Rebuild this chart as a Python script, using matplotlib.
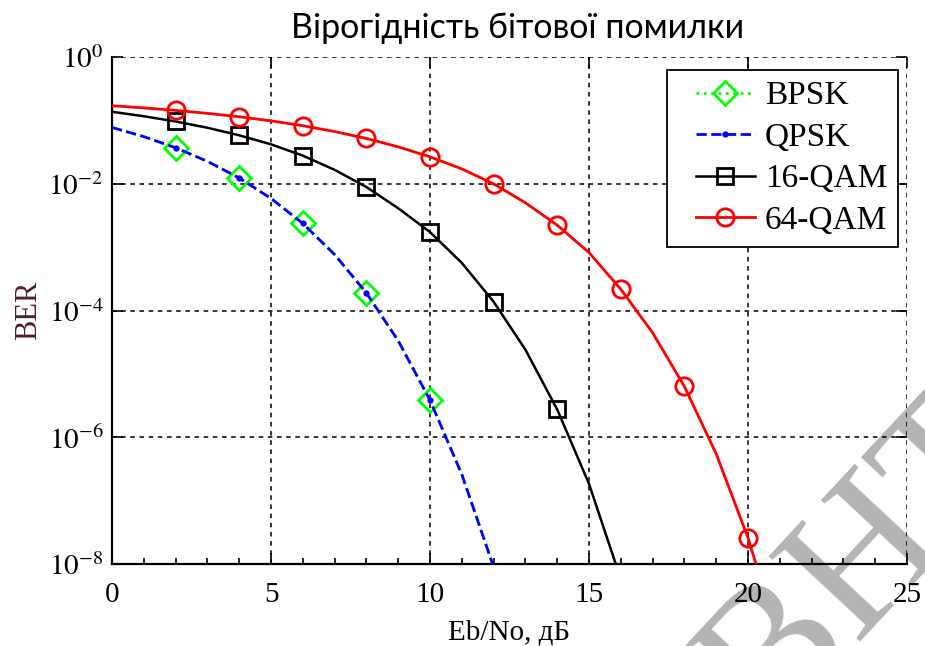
import numpy as np
import matplotlib
matplotlib.use("Agg")
import matplotlib.pyplot as plt
from matplotlib.ticker import FixedLocator, MultipleLocator, FixedFormatter
from matplotlib.legend_handler import HandlerLine2D

plt.rcParams["font.family"] = ["Liberation Serif", "DejaVu Serif"]
plt.rcParams["mathtext.fontset"] = "stix"

# BER curves, read per dB of Eb/No
ebno_bpsk = np.arange(0, 13)
ber_bpsk = [7.86e-2, 5.63e-2, 3.75e-2, 2.29e-2, 1.25e-2, 5.95e-3, 2.39e-3,
            7.73e-4, 1.91e-4, 3.36e-5, 3.87e-6, 2.61e-7, 9.0e-9]
ebno_qpsk = np.arange(0, 13)
ber_qpsk = [7.86e-2, 5.63e-2, 3.75e-2, 2.29e-2, 1.25e-2, 5.95e-3, 2.39e-3,
            7.73e-4, 1.91e-4, 3.36e-5, 3.87e-6, 2.61e-7, 9.0e-9]
ebno_16qam = np.arange(0, 17)
ber_16qam = [1.39e-1, 1.18e-1, 9.76e-2, 7.77e-2, 5.90e-2, 4.25e-2, 2.82e-2,
             1.68e-2, 9.0e-3, 4.16e-3, 1.75e-3, 5.7e-4, 1.39e-4, 2.43e-5,
             2.76e-6, 1.85e-7, 5.8e-9]
ebno_64qam = np.arange(0, 22)
ber_64qam = [1.73e-1, 1.60e-1, 1.46e-1, 1.31e-1, 1.16e-1, 9.98e-2, 8.37e-2,
             6.77e-2, 5.26e-2, 3.88e-2, 2.70e-2, 1.74e-2, 1.01e-2, 5.08e-3,
             2.25e-3, 8.3e-4, 2.19e-4, 4.5e-5, 6.37e-6, 5.5e-7, 2.6e-8, 5.8e-10]

x_ticks = [0, 5, 10, 15, 20, 25]
y_ticks = [1e-8, 1e-6, 1e-4, 1e-2, 1e0]
y_tick_labels = [r"$10^{-8}$", r"$10^{-6}$", r"$10^{-4}$", r"$10^{-2}$", r"$10^{0}$"]


class InsetLineHandler(HandlerLine2D):
    """Legend line that leaves some empty space on its left."""

    def create_artists(self, legend, orig_handle, xdescent, ydescent,
                       width, height, fontsize, trans):
        gap = 0.55 * fontsize
        return super().create_artists(legend, orig_handle, xdescent - gap,
                                      ydescent, width - gap, height,
                                      fontsize, trans)


fig = plt.figure(figsize=(9.25, 6.46), dpi=100)
ax = fig.add_axes([0.1211, 0.1269, 0.8594, 0.7841])
ax.patch.set_alpha(0)

# faint watermark behind the plot
fig.text(0.831, -0.136, "ВНТУ", fontsize=137, color="#b4b4b4",
         rotation=47, rotation_mode="anchor", ha="left", va="baseline",
         zorder=-1, family="Liberation Serif")

ax.semilogy(ebno_bpsk, ber_bpsk, ":", color="#00ff00", lw=2,
            marker="D", ms=12, mfc="none", mec="#00ff00", mew=2,
            markevery=slice(2, 11, 2), label="BPSK", zorder=3)
ax.semilogy(ebno_qpsk, ber_qpsk, "--", color="#0000ff", lw=2,
            marker=".", ms=7, markevery=slice(2, 11, 2), label="QPSK", zorder=4)
ax.semilogy(ebno_16qam, ber_16qam, "-", color="black", lw=1.8,
            marker="s", ms=12, mfc="none", mew=2,
            markevery=slice(2, 15, 2), label="16-QAM", zorder=3)
ax.semilogy(ebno_64qam, ber_64qam, "-", color="#ff0000", lw=2,
            marker="o", ms=12.5, mfc="none", mew=2,
            markevery=slice(2, 21, 2), label="64-QAM", zorder=3)

ax.set_xlim(0, 25)
ax.set_ylim(1e-8, 1)
ax.xaxis.set_major_locator(FixedLocator(x_ticks))
ax.xaxis.set_minor_locator(MultipleLocator(1))
ax.yaxis.set_major_locator(FixedLocator(y_ticks))
ax.yaxis.set_major_formatter(FixedFormatter(y_tick_labels))
ax.yaxis.set_minor_locator(FixedLocator([]))

ax.grid(True, which="major", color="black", ls=(0, (3, 3)), lw=1.1)
ax.spines["top"].set_visible(False)
ax.spines["right"].set_visible(False)
ax.spines["left"].set_linewidth(1.6)
ax.spines["bottom"].set_linewidth(1.6)
ax.tick_params(which="major", direction="in", length=8, width=1.2,
               top=True, right=True, labelsize=21)
ax.tick_params(which="minor", direction="in", length=4, width=1.2)
ax.tick_params(axis="x", which="major", pad=13)
ax.tick_params(axis="y", pad=6)

ax.set_xlabel("Eb/No, дБ", fontsize=21, labelpad=8)
ax.set_ylabel("BER", fontsize=22, color="#4a2030", labelpad=4)
fig.text(0.56, 0.957, "Вірогідність бітової помилки", fontsize=24.5,
         family=["Lato", "DejaVu Sans"], ha="center", va="center")

leg = ax.legend(loc="upper right", bbox_to_anchor=(898 / 925, 1 - 70 / 646),
                bbox_transform=fig.transFigure, borderaxespad=0, fontsize=24,
                fancybox=False, framealpha=1, edgecolor="black",
                handlelength=2.3, handletextpad=0.3, labelspacing=0.33,
                borderpad=0.33, handler_map={matplotlib.lines.Line2D: InsetLineHandler()})
leg.get_frame().set_linewidth(1.3)

fig.savefig("out.png", dpi=100)
